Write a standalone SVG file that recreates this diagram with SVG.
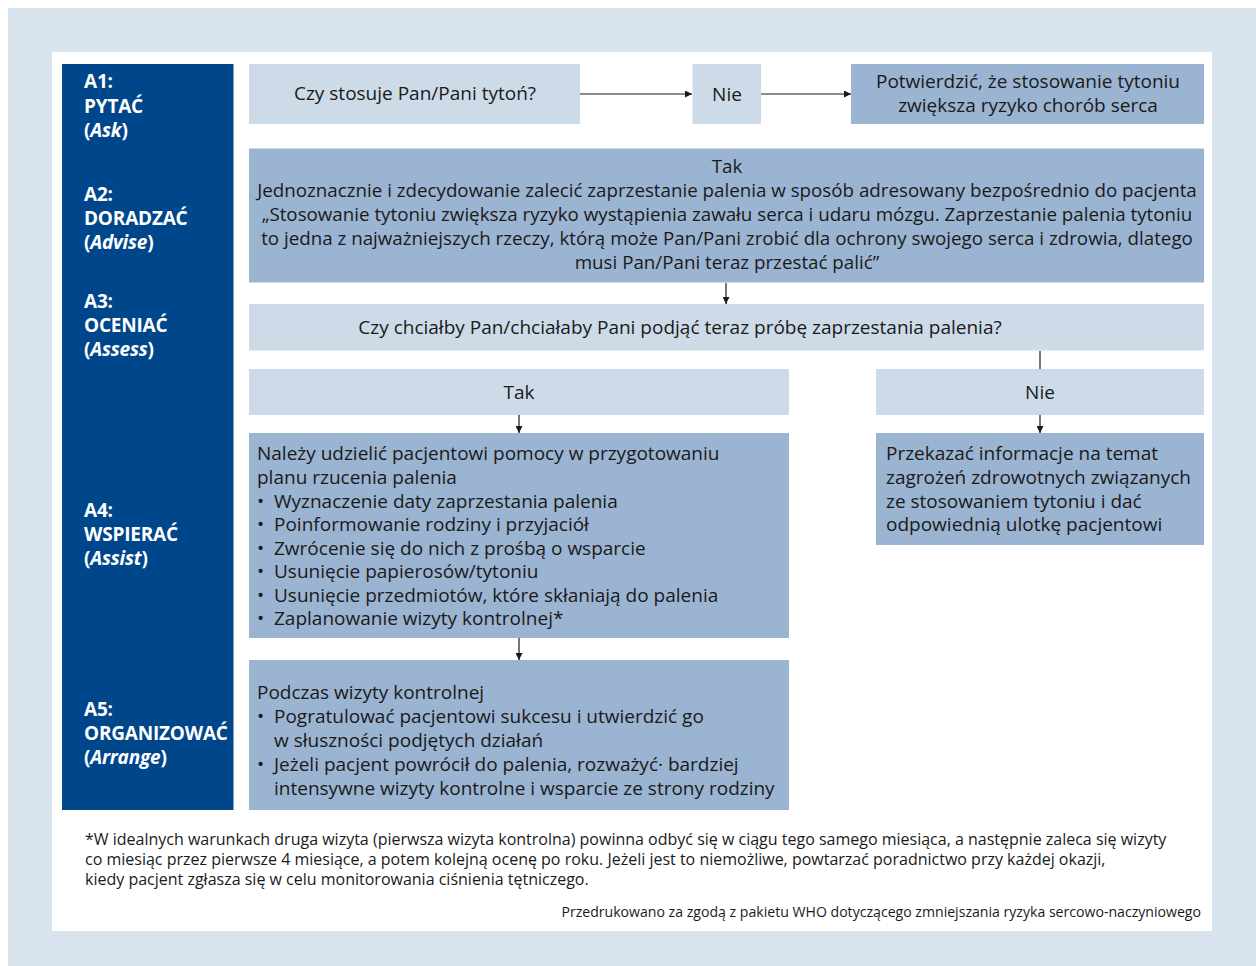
<svg xmlns="http://www.w3.org/2000/svg" width="1256" height="966" viewBox="0 0 1256 966">
<defs>
<style>
.bg{fill:#d9e3ee}
.lt{fill:#cddbe8}
.md{fill:#9bb4d1}
.dk{fill:#00468b}
.t{font-family:"Open Sans","Noto Sans","Liberation Sans",sans-serif;font-size:19px;fill:#1a1a1a}
.s{font-size:18.75px}
.c{text-anchor:middle}
.lab{font-family:"Open Sans","Noto Sans","Liberation Sans",sans-serif;font-size:19px;font-weight:bold;fill:#ffffff;letter-spacing:-0.2px}
.fn{font-family:"Open Sans","Noto Sans","Liberation Sans",sans-serif;font-size:16px;fill:#1a1a1a}
.cr{font-family:"Open Sans","Noto Sans","Liberation Sans",sans-serif;font-size:14.1px;fill:#1a1a1a;text-anchor:end}
.ln{stroke:#1a1a1a;stroke-width:1.2;fill:none}
</style>
<marker id="ah" viewBox="0 0 10 10" refX="10" refY="5" markerWidth="7" markerHeight="7" markerUnits="userSpaceOnUse" orient="auto">
<path d="M0,0 L10,5 L0,10 z" fill="#1a1a1a"/>
</marker>
</defs>
<rect class="bg" x="8" y="8" width="1248" height="958"/>
<rect x="52" y="52" width="1160" height="879" fill="#ffffff"/>

<g id="column">
<rect class="dk" x="62" y="64" width="171.5" height="746"/>
<text class="lab"><tspan x="84" y="88">A1:</tspan><tspan x="84" y="112.5">PYTAĆ</tspan><tspan x="84" y="136.5">(<tspan font-style="italic">Ask</tspan>)</tspan></text>
<text class="lab"><tspan x="84" y="201">A2:</tspan><tspan x="84" y="225">DORADZAĆ</tspan><tspan x="84" y="249">(<tspan font-style="italic">Advise</tspan>)</tspan></text>
<text class="lab"><tspan x="84" y="308">A3:</tspan><tspan x="84" y="332">OCENIAĆ</tspan><tspan x="84" y="356">(<tspan font-style="italic">Assess</tspan>)</tspan></text>
<text class="lab"><tspan x="84" y="517">A4:</tspan><tspan x="84" y="541">WSPIERAĆ</tspan><tspan x="84" y="565">(<tspan font-style="italic">Assist</tspan>)</tspan></text>
<text class="lab"><tspan x="84" y="716">A5:</tspan><tspan x="84" y="740">ORGANIZOWAĆ</tspan><tspan x="84" y="764">(<tspan font-style="italic">Arrange</tspan>)</tspan></text>
</g>

<g id="q1">
<rect class="lt" x="249" y="64" width="331" height="60"/>
<text class="t c" x="415" y="100">Czy stosuje Pan/Pani tytoń?</text>
</g>
<g id="nie1">
<rect class="lt" x="692.5" y="64" width="68.5" height="60"/>
<text class="t c" x="727" y="101">Nie</text>
</g>
<g id="confirm">
<rect class="md" x="851" y="64" width="353" height="60"/>
<text class="t c"><tspan x="1028" y="88">Potwierdzić, że stosowanie tytoniu</tspan><tspan x="1028" y="112">zwiększa ryzyko chorób serca</tspan></text>
</g>
<g id="advise">
<rect class="md" x="249" y="148.5" width="955" height="134"/>
<text class="t s c"><tspan x="727" y="173">Tak</tspan><tspan x="727" y="197">Jednoznacznie i zdecydowanie zalecić zaprzestanie palenia w sposób adresowany bezpośrednio do pacjenta</tspan><tspan x="727" y="221">„Stosowanie tytoniu zwiększa ryzyko wystąpienia zawału serca i udaru mózgu. Zaprzestanie palenia tytoniu</tspan><tspan x="727" y="245">to jedna z najważniejszych rzeczy, którą może Pan/Pani zrobić dla ochrony swojego serca i zdrowia, dlatego</tspan><tspan x="727" y="269">musi Pan/Pani teraz przestać palić”</tspan></text>
</g>
<g id="assess">
<rect class="lt" x="249" y="304" width="955" height="46.5"/>
<text class="t c" x="680" y="334">Czy chciałby Pan/chciałaby Pani podjąć teraz próbę zaprzestania palenia?</text>
</g>
<g id="tak">
<rect class="lt" x="249" y="369" width="540" height="46"/>
<text class="t c" x="519" y="399">Tak</text>
</g>
<g id="nie2">
<rect class="lt" x="876" y="369" width="328" height="46"/>
<text class="t c" x="1040" y="399">Nie</text>
</g>
<g id="assist">
<rect class="md" x="249" y="433" width="540" height="205"/>
<text class="t"><tspan x="257" y="460">Należy udzielić pacjentowi pomocy w przygotowaniu</tspan><tspan x="257" y="484">planu rzucenia palenia</tspan><tspan x="257" y="507.5">•</tspan><tspan x="274" y="507.5">Wyznaczenie daty zaprzestania palenia</tspan><tspan x="257" y="531">•</tspan><tspan x="274" y="531">Poinformowanie rodziny i przyjaciół</tspan><tspan x="257" y="554.5">•</tspan><tspan x="274" y="554.5">Zwrócenie się do nich z prośbą o wsparcie</tspan><tspan x="257" y="578">•</tspan><tspan x="274" y="578">Usunięcie papierosów/tytoniu</tspan><tspan x="257" y="601.5">•</tspan><tspan x="274" y="601.5">Usunięcie przedmiotów, które skłaniają do palenia</tspan><tspan x="257" y="625">•</tspan><tspan x="274" y="625">Zaplanowanie wizyty kontrolnej*</tspan></text>
</g>
<g id="inform">
<rect class="md" x="876" y="433" width="328" height="112"/>
<text class="t"><tspan x="886" y="460">Przekazać informacje na temat</tspan><tspan x="886" y="484">zagrożeń zdrowotnych związanych</tspan><tspan x="886" y="507.5">ze stosowaniem tytoniu i dać</tspan><tspan x="886" y="531">odpowiednią ulotkę pacjentowi</tspan></text>
</g>
<g id="arrange">
<rect class="md" x="249" y="660" width="540" height="150"/>
<text class="t"><tspan x="257" y="698.5">Podczas wizyty kontrolnej</tspan><tspan x="257" y="722.5">•</tspan><tspan x="274" y="722.5">Pogratulować pacjentowi sukcesu i utwierdzić go</tspan><tspan x="274" y="746.5">w słuszności podjętych działań</tspan><tspan x="257" y="770.5">•</tspan><tspan x="274" y="770.5">Jeżeli pacjent powrócił do palenia, rozważyć· bardziej</tspan><tspan x="274" y="794.5">intensywne wizyty kontrolne i wsparcie ze strony rodziny</tspan></text>
</g>

<g id="connectors">
<line class="ln" x1="580" y1="94" x2="692" y2="94" marker-end="url(#ah)"/>
<line class="ln" x1="761" y1="94" x2="851" y2="94" marker-end="url(#ah)"/>
<line class="ln" x1="726" y1="283" x2="726" y2="304" marker-end="url(#ah)"/>
<line class="ln" x1="1040" y1="351" x2="1040" y2="369"/>
<line class="ln" x1="519" y1="415" x2="519" y2="433" marker-end="url(#ah)"/>
<line class="ln" x1="1040" y1="415" x2="1040" y2="433" marker-end="url(#ah)"/>
<line class="ln" x1="519" y1="638" x2="519" y2="660" marker-end="url(#ah)"/>
</g>

<g id="footnote">
<text class="fn"><tspan x="85" y="845">*W idealnych warunkach druga wizyta (pierwsza wizyta kontrolna) powinna odbyć się w ciągu tego samego miesiąca, a następnie zaleca się wizyty</tspan><tspan x="85" y="865">co miesiąc przez pierwsze 4 miesiące, a potem kolejną ocenę po roku. Jeżeli jest to niemożliwe, powtarzać poradnictwo przy każdej okazji,</tspan><tspan x="85" y="885">kiedy pacjent zgłasza się w celu monitorowania ciśnienia tętniczego.</tspan></text>
<text class="cr" x="1201" y="917">Przedrukowano za zgodą z pakietu WHO dotyczącego zmniejszania ryzyka sercowo-naczyniowego</text>
</g>
</svg>
